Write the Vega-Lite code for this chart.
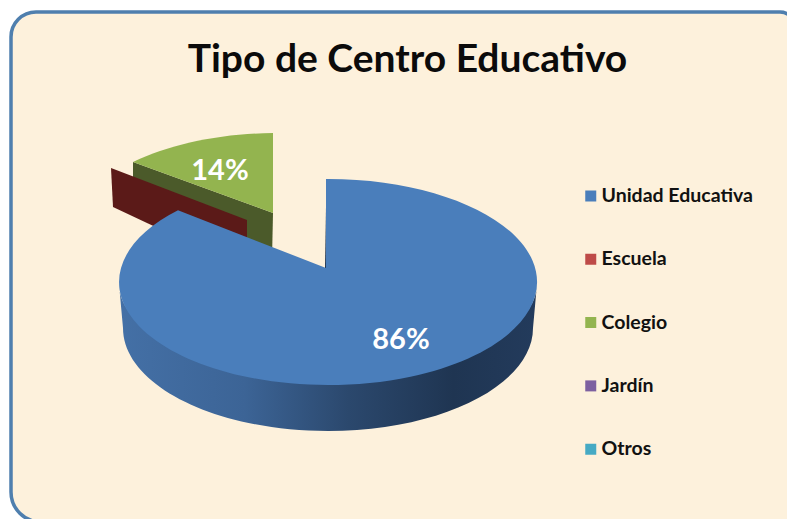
{
"$schema":"https://vega.github.io/schema/vega-lite/v6.json",
"autosize":{"type":"none"},
"padding":0,
"width":787,
"height":519,
"background":"#ffffff",
"view":{"stroke":null},
"title":{"text":"Tipo de Centro Educativo","font":"Lato","fontSize":39,"fontWeight":"bold","color":"#0b0b0b","anchor":"middle","dx":14,"offset":-80},
"data":{"values":[
{"tipo":"Unidad Educativa","pct":0.86},
{"tipo":"Escuela","pct":0},
{"tipo":"Colegio","pct":0.14},
{"tipo":"Jardín","pct":0},
{"tipo":"Otros","pct":0}
]},
"encoding":{
"x":{"datum":0,"type":"quantitative","scale":{"domain":[-1,1],"range":[228,428]},"axis":null},
"y":{"datum":0,"type":"quantitative","scale":{"domain":[-1,1],"range":[382,182]},"axis":null}
},
"layer":[
{"transform":[{"filter":"datum.tipo==='Unidad Educativa'"}],
"mark":{"type":"point","filled":true,"opacity":1,"size":4,"fill":"#fdf1dc","stroke":"#4f7fae","strokeWidth":3.5,"shape":"M-317,210 L-317,-245 A25,25 0 0 1 -292,-270 L452,-270 A15,15 0 0 1 467,-255 L467,240 L-287,240 A30,30 0 0 1 -317,210 Z"}},
{"transform":[{"filter":"datum.tipo==='Colegio'"}],
"mark":{"type":"point","filled":true,"opacity":1,"size":4,"fill":"#4b5a2a","strokeWidth":0,"shape":"M-195,-120 L-55,-69 L-56,-22 L-195,-87 Z"}},
{"transform":[{"filter":"datum.tipo==='Escuela'"}],
"mark":{"type":"point","filled":true,"opacity":1,"size":4,"fill":"#5b1a18","strokeWidth":0,"shape":"M-217,-114 L-81,-62 L-81,-12 L-215,-75 Z"}},
{"transform":[{"filter":"datum.tipo==='Unidad Educativa'"}],
"mark":{"type":"point","filled":true,"opacity":1,"size":4,"strokeWidth":0,"fill":{"gradient":"linear","x1":0,"x2":1,"y1":0,"y2":0,"stops":[{"offset":0,"color":"#4470a6"},{"offset":0.3,"color":"#3c6496"},{"offset":0.55,"color":"#2b486d"},{"offset":0.8,"color":"#1f3552"},{"offset":1,"color":"#233b5c"}]},"shape":"M-209,2 A209,90 0 0 0 209,2 L205,46 A205,103 0 0 1 -205,46 Z"}},
{"transform":[{"filter":"datum.tipo==='Unidad Educativa'"}],
"mark":{"type":"point","filled":true,"opacity":1,"size":4,"fill":"#1f3552","strokeWidth":0,"shape":"M-3,-75 L-2,-14 L-3,-14 Z"}},
{"transform":[{"filter":"datum.tipo==='Unidad Educativa'"}],
"mark":{"type":"point","filled":true,"opacity":1,"size":4,"strokeWidth":0,"shape":"M-2,-103 A209,103 0 1 1 -150,-71.7 L-2,-14 Z"},
"encoding":{"color":{"field":"tipo","type":"nominal",
"scale":{"domain":["Unidad Educativa","Escuela","Colegio","Jardín","Otros"],"range":["#4a7ebb","#be4b48","#93b44f","#7d60a0","#46aac4"]},
"legend":{"title":null,"orient":"none","legendX":581,"legendY":186,"symbolType":"square","symbolSize":121,"symbolStrokeWidth":0,"labelFont":"Lato","labelFontSize":19.5,"labelFontWeight":"bold","labelColor":"#111111","labelOffset":1,"rowPadding":43.3,"clipHeight":20}}}},
{"transform":[{"filter":"datum.tipo==='Colegio'"}],
"mark":{"type":"point","filled":true,"opacity":1,"size":4,"strokeWidth":0,"shape":"M-195,-120 A209,105 0 0 1 -55,-149 L-55,-69 Z"},
"encoding":{"color":{"field":"tipo","type":"nominal"}}},
{"transform":[{"filter":"datum.tipo==='Unidad Educativa'"}],
"mark":{"type":"text","font":"Lato","fontSize":29,"fontWeight":"bold","color":"#ffffff","align":"center","baseline":"middle","dx":73,"dy":58},
"encoding":{"text":{"field":"pct","format":".0%"}}},
{"transform":[{"filter":"datum.tipo==='Colegio'"}],
"mark":{"type":"text","font":"Lato","fontSize":29,"fontWeight":"bold","color":"#ffffff","align":"center","baseline":"middle","dx":-108,"dy":-111},
"encoding":{"text":{"field":"pct","format":".0%"}}}
]
}
